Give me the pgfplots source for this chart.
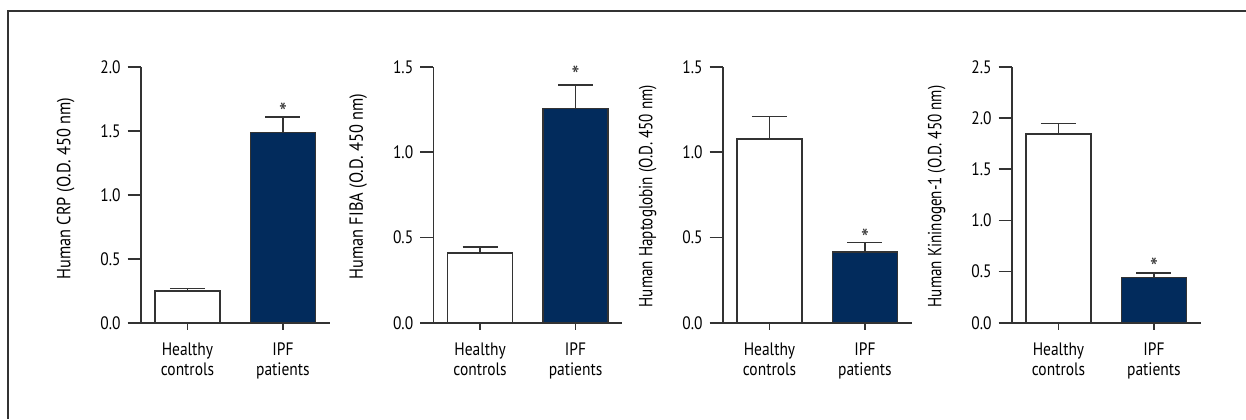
\documentclass[border=0pt]{standalone}
\usepackage{fontspec}
\setmainfont{PT Sans}[FakeStretch=0.86]
\usepackage{graphicx}
\usepackage{pgfplots}
\pgfplotsset{compat=1.18}
\definecolor{navy}{HTML}{022B5C}
\definecolor{ax}{HTML}{333333}
\tikzset{sigstar/.style={anchor=base, font=\fontsize{13}{13}\selectfont, inner sep=0pt, text=ax}}
\pgfplotsset{
  panel/.style={
    scale only axis, width=94.5pt, height=128pt, anchor=south west,
    font=\fontsize{9}{10}\selectfont,
    axis x line*=bottom, axis y line*=left,
    xmin=-0.49, xmax=1.49, ymin=0,
    xtick={0,1}, xticklabels={{Healthy\\controls},{IPF\\patients}},
    xticklabel style={align=center},
    tick align=outside, major tick length=6.5pt,
    xtick style={yshift=3pt},
    tick style={ax, line width=0.8pt},
    axis line style={ax, line width=0.8pt},
    yticklabel style={/pgf/number format/.cd, fixed, fixed zerofill, precision=1, assume math mode=true},
    ytick distance=0.5,
    ybar, bar width=32.5pt,
    clip=false,
    every axis y label/.style={at={([xshift=-36.5pt]axis description cs:0,#1)}, rotate=90, anchor=south west, inner sep=0pt, font=\fontsize{9.5}{10}\selectfont, yshift=-3.6pt},
  },
  eb/.style={error bars/.cd, y dir=plus, y explicit,
    error bar style={ax, line width=0.8pt},
    error mark options={ax, line width=0.8pt, mark size=8.75pt, rotate=90}},
  hc/.style={bar shift=0pt, draw=ax, fill=white, line width=0.8pt, eb},
  ipf/.style={bar shift=0pt, draw=ax, fill=navy, line width=0.8pt, eb},
}
\begin{document}
\begin{tikzpicture}
\useasboundingbox (0,0) rectangle (623pt,209.5pt);
\draw[ax, line width=0.8pt] (4pt,0pt) -- (4pt,204.15pt) -- (623pt,204.15pt);

% Panel 1: CRP
\begin{axis}[panel=0.167, at={(70.35pt,48.15pt)}, ymax=2.0,
  ylabel={Human CRP (O.D. 450 nm)}]
\addplot[hc] coordinates {(0,0.25) +- (0,0.016)};
\addplot[ipf] coordinates {(1,1.487) +- (0,0.12)};
\node[sigstar] at (axis cs:1,1.572) {*};
\end{axis}

% Panel 2: FIBA
\begin{axis}[panel=0.167, at={(216.65pt,48.15pt)}, ymax=1.5,
  ylabel={Human FIBA (O.D. 450 nm)}]
\addplot[hc] coordinates {(0,0.407) +- (0,0.038)};
\addplot[ipf] coordinates {(1,1.254) +- (0,0.14)};
\node[sigstar] at (axis cs:1,1.395) {*};
\end{axis}

% Panel 3: Haptoglobin
\begin{axis}[panel=0.059, at={(361.35pt,48.15pt)}, ymax=1.5,
  ylabel={\scalebox{0.925}[1]{Human Haptoglobin (O.D. 450 nm)}}]
\addplot[hc] coordinates {(0,1.076) +- (0,0.133)};
\addplot[ipf] coordinates {(1,0.416) +- (0,0.053)};
\node[sigstar] at (axis cs:1,0.439) {*};
\end{axis}

% Panel 4: Kininogen-1
\begin{axis}[panel=0.059, at={(505.85pt,48.15pt)}, ymax=2.5,
  ylabel={\scalebox{0.925}[1]{Human Kininogen-1 (O.D. 450 nm)}}]
\addplot[hc] coordinates {(0,1.84) +- (0,0.107)};
\addplot[ipf] coordinates {(1,0.443) +- (0,0.045)};
\node[sigstar] at (axis cs:1,0.452) {*};
\end{axis}
\end{tikzpicture}
\end{document}
